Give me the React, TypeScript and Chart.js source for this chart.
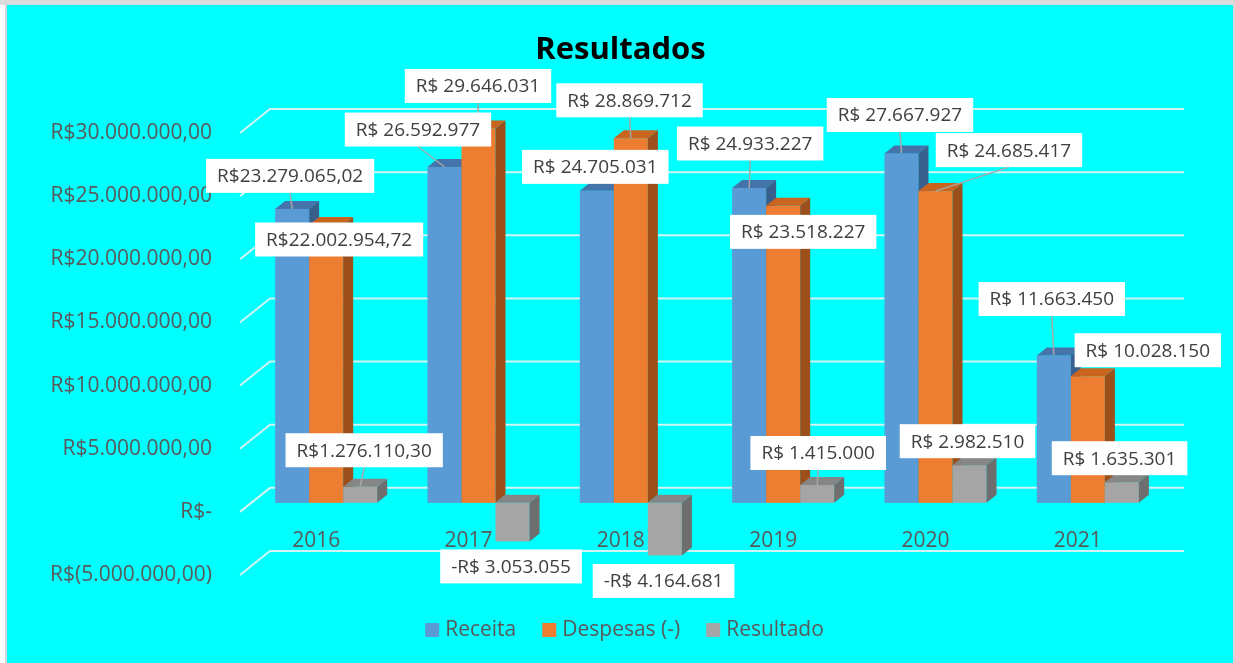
import React, { useEffect, useRef } from 'react';
import { Chart, registerables } from 'chart.js';

Chart.register(...registerables);

// ---------- data ----------
const categories = ['2016', '2017', '2018', '2019', '2020', '2021'];
const receita = [23279065.02, 26592977, 24705031, 24933227, 27667927, 11663450];
const despesas = [22002954.72, 29646031, 28869712, 23518227, 24685417, 10028150];
const resultado = [1276110.3, -3053055, -4164681, 1415000, 2982510, 1635301];
const seriesNames = ['Receita', 'Despesas (-)', 'Resultado'];
const decimalLabelCategories = ['2016'];
const yMin = -5000000;
const yMax = 30000000;
const yStep = 5000000;
const chartTitle = 'Resultados';

// ---------- layout / style (not data) ----------
const labelOffsets: number[][][] = [
  [[-2, -33], [-26.5, -37.5], [-1.5, -24], [1, -44.5], [-1.5, -38.5], [-2, -56.5]],
  [[13, 14.5], [-0.5, -42.5], [-1.3, -38], [20, 26], [73.5, -41], [60, -26]],
  [[4, -36.5], [-1.5, 25], [-1.3, 25.5], [1, -32], [-2, -24], [-2.3, -24]],
];
const FONT = "'Open Sans', 'Noto Sans', sans-serif";
const faces = [
  { front: '#5B9BD5', top: '#4574AB', side: '#395F8D' },
  { front: '#ED7D31', top: '#C9651F', side: '#9C4F1A' },
  { front: '#A5A5A5', top: '#868686', side: '#6E6E6E' },
];
const SHIFT = { x: 10, y: -9 };
const DEPTH = { x: 10, y: -8 };
const WALL = { x: 30, y: -24 };
const GRID = '#D2F4F4';
const W = 1235;
const H = 663;

function group(n: number): string {
  return Math.floor(n).toString().replace(/\B(?=(\d{3})+(?!\d))/g, '.');
}

function fmtAxis(v: number): string {
  if (v === 0) return 'R$-';
  const a = Math.abs(v);
  const s = group(a) + ',' + a.toFixed(2).split('.')[1];
  return v < 0 ? `R$(${s})` : `R$${s}`;
}

function fmtLabel(v: number, decimals: boolean): string {
  const a = Math.abs(v);
  if (decimals) {
    const fixed = a.toFixed(2);
    const [ip, dp] = fixed.split('.');
    return (v < 0 ? '-' : '') + 'R$' + group(Number(ip)) + ',' + dp;
  }
  return (v < 0 ? '-' : '') + 'R$ ' + group(Math.round(a));
}

const chart3d = {
  id: 'chart3d',
  beforeDraw(chart: any) {
    const ctx = chart.ctx;
    ctx.save();
    ctx.fillStyle = '#ffffff';
    ctx.fillRect(0, 0, W, H);
    ctx.fillStyle = '#dcdcdc';
    ctx.fillRect(0, 0, W, 5);
    ctx.fillStyle = '#d6d6d6';
    ctx.fillRect(5, 0, 2, H);
    ctx.fillRect(1233, 0, 2, H);
    ctx.fillStyle = '#00FFFF';
    ctx.fillRect(7, 5, 1226, H - 5);
    ctx.restore();
  },
  beforeDatasetsDraw(chart: any) {
    const { ctx, chartArea, scales } = chart;
    const ys = scales.y;
    const xs = scales.x;
    ctx.save();
    // gridlines (3D wall + floor edge)
    ctx.strokeStyle = GRID;
    ctx.lineWidth = 2;
    for (let v = yMin; v <= yMax; v += yStep) {
      const py = ys.getPixelForValue(v);
      ctx.beginPath();
      ctx.moveTo(chartArea.left, py);
      ctx.lineTo(chartArea.left + WALL.x, py + WALL.y);
      ctx.lineTo(chartArea.right + WALL.x, py + WALL.y);
      ctx.stroke();
    }
    // category labels
    ctx.font = `21px ${FONT}`;
    ctx.fillStyle = '#595959';
    ctx.textAlign = 'center';
    ctx.textBaseline = 'middle';
    categories.forEach((c, i) => {
      ctx.fillText(c, xs.getPixelForValue(i), ys.getPixelForValue(0) + 29);
    });

    // bars with 3D faces
    const nSets = chart.data.datasets.length;
    const anchors: { x: number; y: number; v: number; di: number; ci: number }[] = [];
    for (let ci = 0; ci < categories.length; ci++) {
      for (let di = 0; di < nSets; di++) {
        const meta = chart.getDatasetMeta(di);
        const el: any = meta.data[ci];
        if (!el) continue;
        const left = el.x - el.width / 2 + SHIFT.x;
        const right = el.x + el.width / 2 + SHIFT.x;
        const top = Math.min(el.y, el.base) + SHIFT.y;
        const bottom = Math.max(el.y, el.base) + SHIFT.y;
        const f = faces[di];
        ctx.fillStyle = f.front;
        ctx.fillRect(left, top, right - left, bottom - top);
        ctx.fillStyle = f.top;
        ctx.beginPath();
        ctx.moveTo(left, top);
        ctx.lineTo(left + DEPTH.x, top + DEPTH.y);
        ctx.lineTo(right + DEPTH.x, top + DEPTH.y);
        ctx.lineTo(right, top);
        ctx.closePath();
        ctx.fill();
        ctx.fillStyle = f.side;
        ctx.beginPath();
        ctx.moveTo(right, top);
        ctx.lineTo(right + DEPTH.x, top + DEPTH.y);
        ctx.lineTo(right + DEPTH.x, bottom + DEPTH.y);
        ctx.lineTo(right, bottom);
        ctx.closePath();
        ctx.fill();
        const v = chart.data.datasets[di].data[ci];
        anchors.push({ x: el.x + SHIFT.x, y: el.y + SHIFT.y, v, di, ci });
      }
    }

    // data labels with leader lines
    ctx.font = `19px ${FONT}`;
    const boxes = anchors.map((a) => {
      const txt = fmtLabel(a.v, decimalLabelCategories.includes(categories[a.ci]));
      const w = ctx.measureText(txt).width + 22;
      const h = 34;
      const off = labelOffsets[a.di][a.ci];
      const cx = a.x + off[0];
      const cy = a.y + off[1];
      return { a, txt, l: cx - w / 2, r: cx + w / 2, t: cy - h / 2, b: cy + h / 2, cx, cy };
    });
    ctx.strokeStyle = '#A6A6A6';
    ctx.lineWidth = 1.5;
    boxes.forEach((bx) => {
      const { a } = bx;
      let sx = bx.cx;
      let sy: number | null = null;
      if (a.y - bx.b > 10) sy = bx.b;
      else if (bx.t - a.y > 10) sy = bx.t;
      if (sy !== null) {
        ctx.beginPath();
        ctx.moveTo(sx, sy);
        ctx.lineTo(a.x, a.y);
        ctx.stroke();
      }
    });
    boxes.forEach((bx) => {
      ctx.fillStyle = '#ffffff';
      ctx.fillRect(bx.l, bx.t, bx.r - bx.l, bx.b - bx.t);
      ctx.fillStyle = '#404040';
      ctx.textAlign = 'center';
      ctx.textBaseline = 'middle';
      ctx.fillText(bx.txt, bx.cx, bx.cy + 1);
    });
    ctx.restore();
    return false;
  },
  afterDraw(chart: any) {
    const ctx = chart.ctx;
    ctx.save();
    // title
    ctx.font = `bold 31px ${FONT}`;
    ctx.fillStyle = '#000000';
    ctx.textAlign = 'center';
    ctx.textBaseline = 'alphabetic';
    ctx.fillText(chartTitle, 620.5, 59);
    // legend
    ctx.font = `21px ${FONT}`;
    const box = 14;
    const gap = 6;
    const itemGap = 26;
    const widths = seriesNames.map((n) => ctx.measureText(n).width);
    const total = widths.reduce((s, w) => s + box + gap + w, 0) + itemGap * (seriesNames.length - 1);
    let x = 624.5 - total / 2;
    const cy = 630;
    seriesNames.forEach((n, i) => {
      ctx.fillStyle = faces[i].front;
      ctx.fillRect(x, cy - box / 2, box, box);
      x += box + gap;
      ctx.fillStyle = '#595959';
      ctx.textAlign = 'left';
      ctx.textBaseline = 'middle';
      ctx.fillText(n, x, cy);
      x += widths[i] + itemGap;
    });
    ctx.restore();
  },
};

export default function App() {
  const ref = useRef<HTMLCanvasElement | null>(null);
  useEffect(() => {
    document.body.style.margin = '0';
    const canvas = ref.current;
    if (!canvas) return;
    const chart = new Chart(canvas, {
      type: 'bar',
      data: {
        labels: categories,
        datasets: [
          { label: seriesNames[0], data: receita, backgroundColor: faces[0].front },
          { label: seriesNames[1], data: despesas, backgroundColor: faces[1].front },
          { label: seriesNames[2], data: resultado, backgroundColor: faces[2].front },
        ],
      },
      options: {
        animation: false,
        responsive: false,
        maintainAspectRatio: false,
        devicePixelRatio: 1,
        layout: { padding: { top: 133, bottom: 88, left: 0, right: 81 } },
        datasets: { bar: { barPercentage: 1, categoryPercentage: 0.67 } },
        plugins: {
          legend: { display: false },
          title: { display: false },
          tooltip: { enabled: false },
        },
        scales: {
          x: { display: false },
          y: {
            min: yMin,
            max: yMax,
            grid: { display: false, drawTicks: false },
            border: { display: false },
            ticks: {
              stepSize: yStep,
              padding: 28,
              color: '#595959',
              font: { family: FONT, size: 21 },
              callback: (v: any) => fmtAxis(Number(v)),
            },
            afterFit: (s: any) => {
              s.width = 240;
            },
          },
        },
      } as any,
      plugins: [chart3d as any],
    });
    return () => chart.destroy();
  }, []);
  return (
    <div style={{ position: 'absolute', left: 0, top: 0, width: W, height: H, overflow: 'hidden' }}>
      <canvas ref={ref} width={W} height={H} style={{ display: 'block', width: W, height: H }} />
    </div>
  );
}
